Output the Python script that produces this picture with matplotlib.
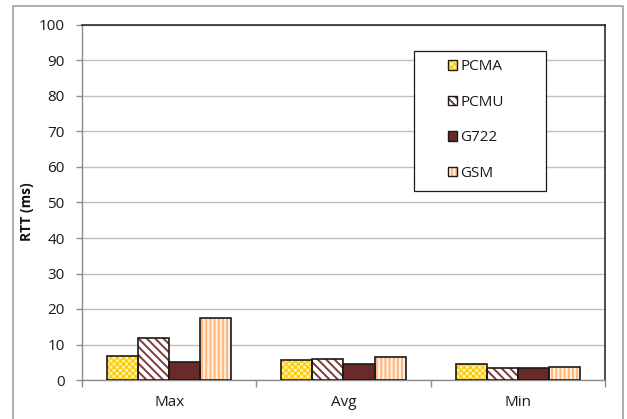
import warnings
import numpy as np
import matplotlib
matplotlib.use("Agg")
import matplotlib.pyplot as plt
import matplotlib.hatch as mhatch
from matplotlib.path import Path
from matplotlib.patches import Patch, Rectangle
from matplotlib.legend_handler import HandlerTuple

warnings.filterwarnings("ignore")

# ---- data -------------------------------------------------------------
categories = ["Max", "Avg", "Min"]
codecs = ["PCMA", "PCMU", "G722", "GSM"]
pcma = [6.8, 5.5, 4.5]
pcmu = [11.7, 5.9, 3.4]
g722 = [5.1, 4.5, 3.5]
gsm = [17.5, 6.6, 3.8]
y_ticks = [0, 10, 20, 30, 40, 50, 60, 70, 80, 90, 100]
y_label = "RTT (ms)"

series = [pcma, pcmu, g722, gsm]


# ---- checkerboard hatch -------------------------------------------------
class CheckerHatch(mhatch.HatchPatternBase):
    """Filled checkerboard squares, one block of 16x16 cells per 'c'."""

    def __init__(self, hatch, density):
        self.cells = hatch.count("c") * 16
        n = self.cells
        self.num_vertices = (n * n // 2) * 5 if n else 0

    def set_vertices_and_codes(self, vertices, codes):
        n = self.cells
        step = 1.0 / n
        inset = step * 0.27
        k = 0
        for i in range(n):
            for j in range(n):
                if (i + j) % 2:
                    continue
                x0, x1 = i * step + inset, (i + 1) * step - inset
                y0, y1 = j * step + inset, (j + 1) * step - inset
                vertices[k:k + 5] = [(x0, y0), (x1, y0), (x1, y1), (x0, y1), (x0, y0)]
                codes[k:k + 5] = [Path.MOVETO, Path.LINETO, Path.LINETO,
                                  Path.LINETO, Path.CLOSEPOLY]
                k += 5


mhatch._hatch_types.append(CheckerHatch)

plt.rcParams["hatch.linewidth"] = 1.4
plt.rcParams["font.family"] = ["Open Sans", "DejaVu Sans"]

# fill colour, hatch colour, hatch pattern for each codec
styles = [
    ("#FFF4BC", "#FFCC00", "cc"),
    ("#FFFFFF", "#7E3A3A", "\\\\\\\\"),
    ("#6A2A2A", "#6A2A2A", None),
    ("#FFF0E2", "#FFB478", "||||"),
]

W, H, DPI = 627, 419, 100
fig = plt.figure(figsize=(W / DPI, H / DPI), dpi=DPI)
ax = fig.add_axes([82 / W, (H - 380) / H, (605 - 82) / W, (380 - 25) / H])

x = np.arange(len(categories))
bw = 0.178
for i, (vals, (fc, hc, hp)) in enumerate(zip(series, styles)):
    pos = x + (i - 1.5) * bw
    ax.bar(pos, vals, width=bw, color=fc, edgecolor=hc, hatch=hp,
           linewidth=0, zorder=3)
    ax.bar(pos, vals, width=bw, fill=False, edgecolor="#1a1a1a",
           linewidth=1.2, zorder=4)

ax.set_xlim(-0.5, len(categories) - 0.5)
ax.set_ylim(0, 100)
ax.set_yticks(y_ticks)
ax.yaxis.grid(True, color="#C0C0C0", linewidth=1.0, zorder=0)
ax.set_axisbelow(True)

ax.set_xticks(x)
ax.set_xticklabels(categories)
ax.set_xticks(np.arange(len(categories) + 1) - 0.5, minor=True)
ax.tick_params(axis="x", which="major", length=0, pad=11, labelsize=11,
               colors="#1a1a1a")
ax.tick_params(axis="x", which="minor", length=5, width=1.0, color="#8C8C8C",
               direction="out")
ax.tick_params(axis="y", length=4.5, width=1.0, color="#8C8C8C", pad=8,
               labelsize=11, labelcolor="#1a1a1a", direction="out")

for side in ("left", "bottom"):
    ax.spines[side].set_color("#8C8C8C")
    ax.spines[side].set_linewidth(1.0)
for side in ("top", "right"):
    ax.spines[side].set_color("#1a1a1a")
    ax.spines[side].set_linewidth(1.1)

ax.set_ylabel(y_label, fontsize=10, fontweight="bold", color="#111111")
ax.yaxis.set_label_coords(-0.092, 0.473)

# legend frame drawn above the gridlines
ax.add_patch(Rectangle((0.6348, 0.5324), 0.2524, 0.3944, transform=ax.transAxes,
                       facecolor="white", edgecolor="#1a1a1a", linewidth=0.9,
                       zorder=5))

handles = []
for fc, hc, hp in styles:
    handles.append((Patch(facecolor=fc, edgecolor=hc, hatch=hp, linewidth=0),
                    Patch(fill=False, edgecolor="#1a1a1a", linewidth=1.0)))
leg = ax.legend(handles, codecs, handler_map={tuple: HandlerTuple(ndivide=1)},
                loc="upper left", bbox_to_anchor=((448 - 82) / 523, (380 - 59.4) / 355),
                frameon=False, fontsize=11, borderpad=0, borderaxespad=0,
                handlelength=0.6, handleheight=0.6, handletextpad=0.22,
                labelspacing=1.34)
leg.set_zorder(6)
for t in leg.get_texts():
    t.set_color("#1a1a1a")

# outer chart border
fig.add_artist(Rectangle((12.5 / W, -0.05), (622.7 - 12.5) / W, 1.05 - 6 / H,
                         transform=fig.transFigure, fill=False,
                         edgecolor="#A0A0A0", linewidth=1.2))

fig.savefig("out.png", dpi=DPI)
